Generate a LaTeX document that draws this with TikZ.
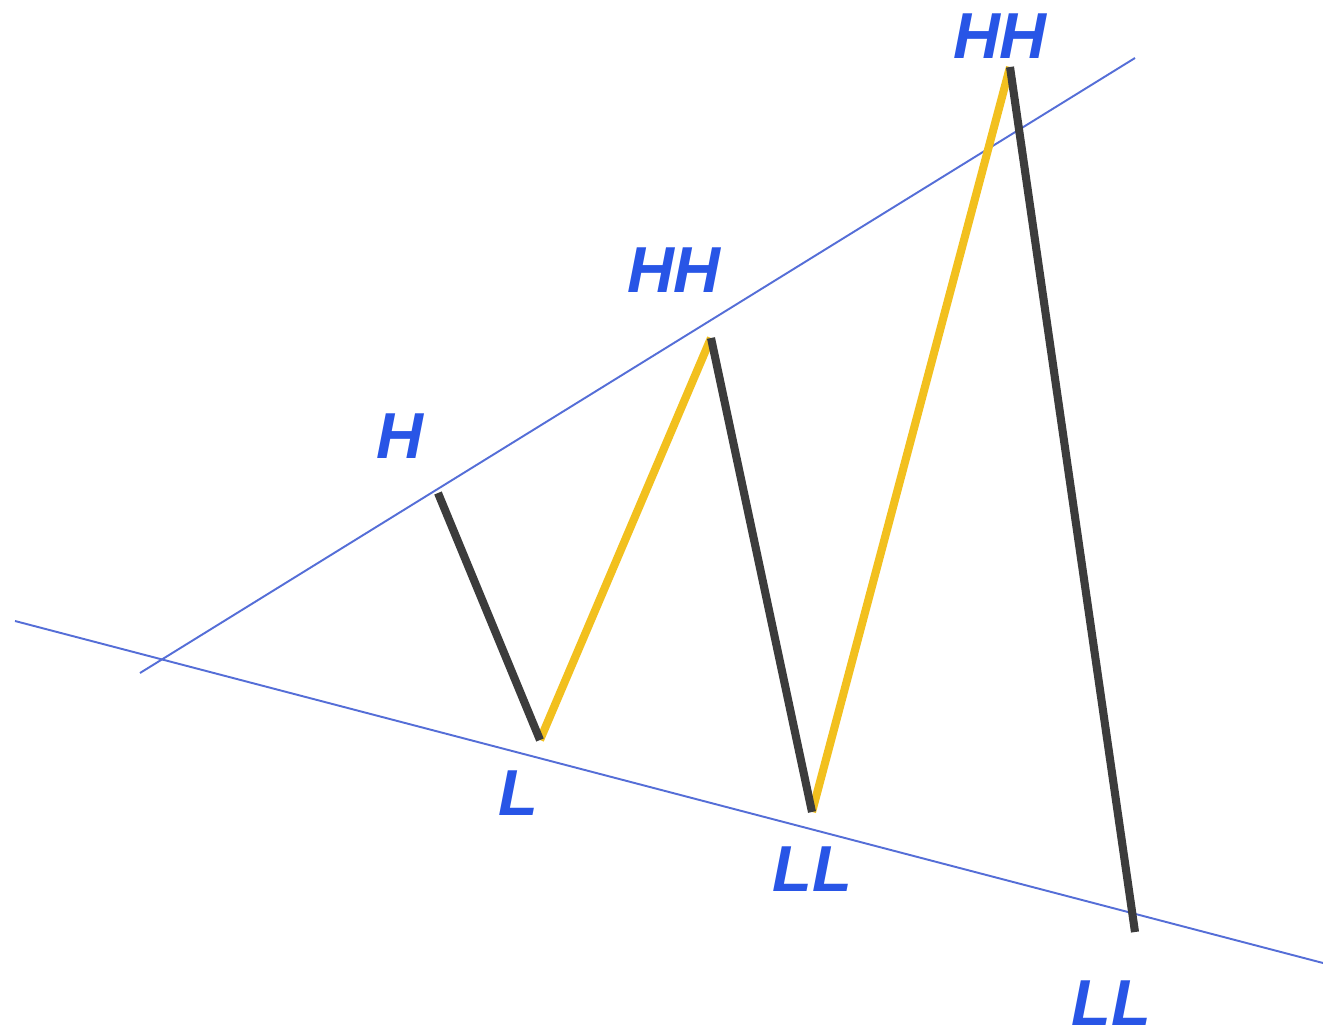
\documentclass[tikz,border=0pt]{standalone}
\usepackage{fontspec}
\setmainfont{Liberation Sans}
\usepackage{xcolor}
\usepackage{tikz}
\usetikzlibrary{positioning, calc}
\definecolor{trendblue}{RGB}{85, 110, 215}
\definecolor{labelblue}{RGB}{40, 85, 230}
\definecolor{legdark}{RGB}{60, 60, 60}
\definecolor{legyellow}{RGB}{242, 192, 30}

\begin{document}
\begin{tikzpicture}[x=0.02cm, y=-0.02cm,
    trendline/.style={trendblue, line width=1.1pt},
    downleg/.style={legdark, line width=4.6pt},
    upleg/.style={legyellow, line width=4.6pt},
    pivotlabel/.style={labelblue, font=\fontsize{37}{40}\selectfont\bfseries\itshape, inner sep=0pt}]
    \useasboundingbox (0,0) rectangle (1323,1034);
    % trend lines
    \coordinate (U1) at (140,673);
    \coordinate (U2) at (1135,58);
    \coordinate (D1) at (15,621);
    \coordinate (D2) at (1323,963);
    \draw[trendline] (U1)--(U2);
    \draw[trendline] (D1)--(D2);
    % swing points
    \coordinate (H) at (438,493);
    \coordinate (L) at (540,740);
    \coordinate (HHa) at (711,338);
    \coordinate (LLa) at (812,812);
    \coordinate (HHb) at (1010,67);
    \coordinate (LLb) at (1135,932);
    \draw[upleg] (L)--(HHa);
    \draw[upleg] (LLa)--(HHb);
    \draw[downleg] (H)--(L);
    \draw[downleg] (HHa)--(LLa);
    \draw[downleg] (HHb)--(LLb);
    % labels
    \node[pivotlabel] (labH) at (400,436) {H};
    \node[pivotlabel] (labL) at (518,793) {L};
    \node[pivotlabel] (labHHa) at (674,270) {HH};
    \node[pivotlabel] (labLLa) at (812,869) {LL};
    \node[pivotlabel] (labHHb) at (1000,36) {HH};
    \node[pivotlabel] (labLLb) at (1111,1003) {LL};
\end{tikzpicture}
\end{document}
